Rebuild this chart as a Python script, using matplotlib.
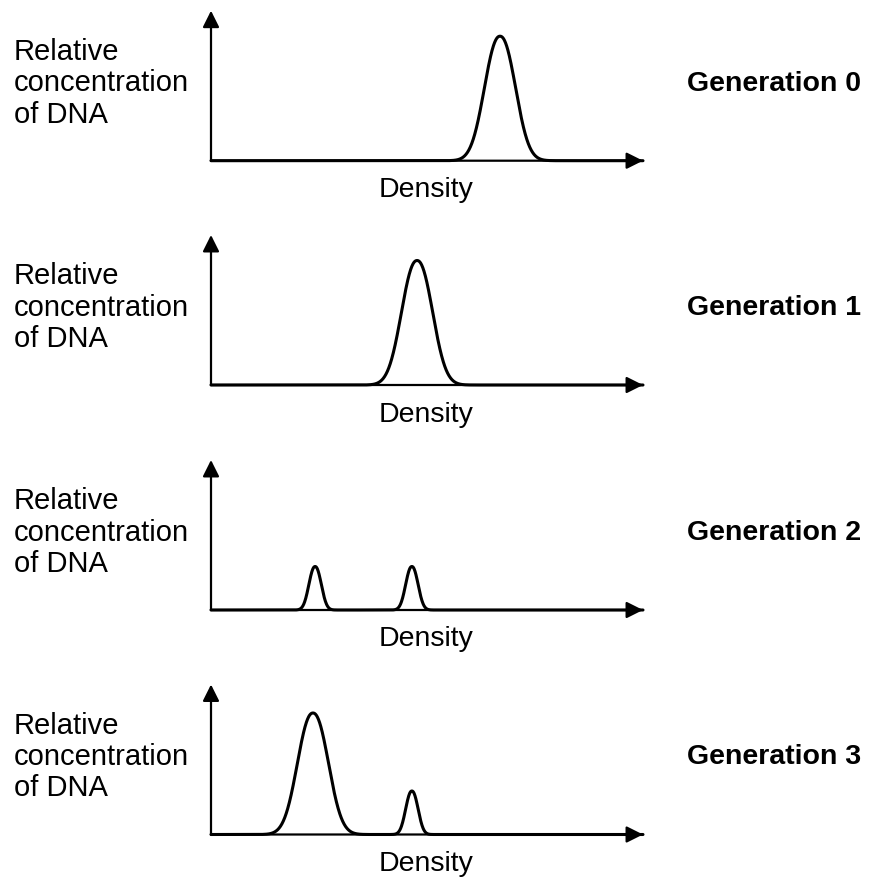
import numpy as np
import matplotlib
matplotlib.use("Agg")
from matplotlib import pyplot as plt

plt.rcParams['font.family'] = ['Liberation Sans', 'DejaVu Sans']

# generation labels and the DNA bands seen in each one
generations = ['Generation 0', 'Generation 1', 'Generation 2', 'Generation 3']
peak_centers = [[6.69], [4.77], [2.41, 4.65], [2.36, 4.65]]   # density (arbitrary units, 0-10)
peak_heights = [[0.83], [0.83], [0.29, 0.29], [0.81, 0.29]]   # relative concentration (0-1)
peak_widths = [[0.35], [0.35], [0.14, 0.14], [0.35, 0.14]]    # band spread (sigma)

y_label = 'Relative\nconcentration\nof DNA'
x_label = 'Density'

W, H = 870, 877
fig = plt.figure(figsize=(W / 100, H / 100), dpi=100)

baselines = [160.7, 385, 610, 834.5]  # pixel rows of each x axis
x0, x1 = 211, 643
ax_h = 150

x = np.linspace(0, 10, 1500)
for i in range(4):
    yb = baselines[i]
    ax = fig.add_axes([x0 / W, 1 - yb / H, (x1 - x0) / W, ax_h / H])
    ax.set_xlim(0, 10)
    ax.set_ylim(0, 1)
    ax.axis('off')

    # axes arrows
    arrow = dict(arrowstyle='-|>', color='black', lw=1.6,
                 mutation_scale=25, shrinkA=0, shrinkB=0)
    ax.annotate('', xy=(1, 0), xytext=(0, 0), xycoords='axes fraction',
                arrowprops=arrow)
    ax.annotate('', xy=(0, 1), xytext=(0, 0), xycoords='axes fraction',
                arrowprops=arrow)

    # bands
    y = np.zeros_like(x)
    for c, h, s in zip(peak_centers[i], peak_heights[i], peak_widths[i]):
        y += h * np.exp(-0.5 * np.abs((x - c) / s) ** 2.2)
    ax.plot(x, y, color='black', lw=2.2, clip_on=False,
            solid_capstyle='round')

    # va='baseline' on multi-line text sits on the last line
    fig.text(14 / W, 1 - (yb - 38) / H, y_label, fontsize=21,
             ha='left', va='baseline', linespacing=1.15)
    fig.text(687 / W, 1 - (yb - 77) / H, generations[i], fontsize=20.5,
             fontweight='bold', ha='left', va='center')
    fig.text(426 / W, 1 - (yb + 36.5) / H, x_label, fontsize=20.5,
             ha='center', va='baseline')

plt.savefig('out.png', dpi=100)
